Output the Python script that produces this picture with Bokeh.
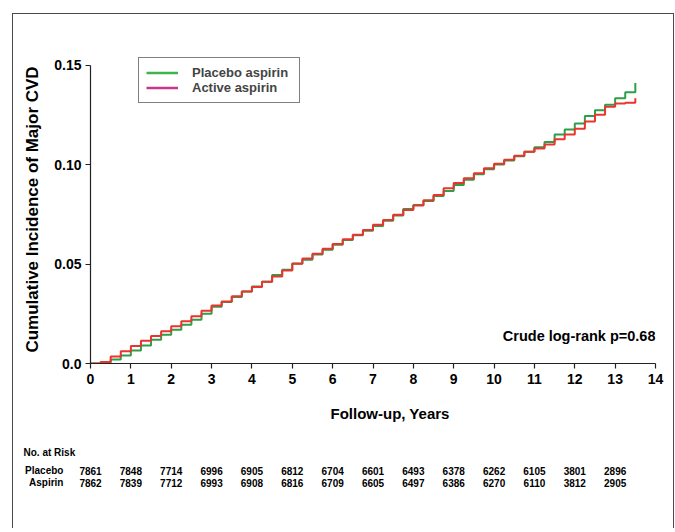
from bokeh.plotting import figure
from bokeh.layouts import column, row
from bokeh.models import (Range1d, FixedTicker, Legend, LegendItem, Label, Title,
                          ColumnDataSource)
from bokeh.core.properties import value
from bokeh.embed import file_html
from bokeh.resources import INLINE

# ---- data ----
years = [0, 0.25, 0.5, 0.75, 1.0, 1.25, 1.5, 1.75, 2.0, 2.25, 2.5, 2.75, 3.0, 3.25,
         3.5, 3.75, 4.0, 4.25, 4.5, 4.75, 5.0, 5.25, 5.5, 5.75, 6.0, 6.25, 6.5, 6.75,
         7.0, 7.25, 7.5, 7.75, 8.0, 8.25, 8.5, 8.75, 9.0, 9.25, 9.5, 9.75, 10.0, 10.25,
         10.5, 10.75, 11.0, 11.25, 11.5, 11.75, 12.0, 12.25, 12.5, 12.75, 13.0, 13.25, 13.5]
placebo_cum = [0, 0.0005, 0.002, 0.004, 0.0065, 0.009, 0.012, 0.0145, 0.017, 0.0195,
               0.022, 0.025, 0.0285, 0.031, 0.0335, 0.0362, 0.0388, 0.0412, 0.0445,
               0.0472, 0.0503, 0.0522, 0.0548, 0.0572, 0.0598, 0.0622, 0.0645, 0.0668,
               0.0692, 0.0718, 0.0745, 0.0778, 0.0798, 0.0818, 0.0843, 0.0868, 0.0898,
               0.0925, 0.0952, 0.0978, 0.1002, 0.1022, 0.1043, 0.1066, 0.1088, 0.1115,
               0.1152, 0.1178, 0.1208, 0.1245, 0.1275, 0.1302, 0.1335, 0.1365, 0.1412]
aspirin_cum = [0, 0.0008, 0.0035, 0.0062, 0.0088, 0.0115, 0.0138, 0.0162, 0.0188, 0.0212,
               0.0238, 0.0265, 0.0292, 0.0312, 0.0338, 0.0362, 0.0385, 0.0412, 0.0438,
               0.0468, 0.0502, 0.0528, 0.0552, 0.0578, 0.0602, 0.0625, 0.0648, 0.0672,
               0.0698, 0.0722, 0.0748, 0.0772, 0.0795, 0.0822, 0.0848, 0.0882, 0.0908,
               0.0932, 0.0958, 0.0982, 0.1005, 0.1025, 0.1045, 0.1065, 0.1082, 0.1102,
               0.1128, 0.1152, 0.1182, 0.1218, 0.1252, 0.1292, 0.1308, 0.1312, 0.1335]

x_ticks = list(range(15))
y_ticks = [0, 0.05, 0.10, 0.15]
y_tick_labels = ["0.0", "0.05", "0.10", "0.15"]

risk_years = list(range(14))
risk_groups = ["Placebo", "Aspirin"]
placebo_risk = [7861, 7848, 7714, 6996, 6905, 6812, 6704, 6601, 6493, 6378, 6262, 6105, 3801, 2896]
aspirin_risk = [7862, 7839, 7712, 6993, 6908, 6816, 6709, 6605, 6497, 6386, 6270, 6110, 3812, 2905]

legend_labels = ["Placebo aspirin", "Active aspirin"]
pvalue_text = "Crude log-rank p=0.68"

FONT = "Liberation Sans"
GREEN = "#2f9e48"
RED = "#e8352f"
LEG_GREEN = "#3cb54a"
LEG_MAGENTA = "#c8378a"

W = 660
LEFT, RIGHT = 77, 18
X0, X1 = 0, 14
Y_TOP = 0.155   # a little head-room above the last tick for the legend box

p = figure(width=W, height=426, x_range=Range1d(X0, X1), y_range=Range1d(0, Y_TOP),
           output_backend="svg", toolbar_location=None,
           min_border_left=LEFT, min_border_right=RIGHT, min_border_top=41,
           min_border_bottom=77)
p.outline_line_color = None
p.xgrid.visible = False
p.ygrid.visible = False

for ax in (p.xaxis[0], p.yaxis[0]):
    ax.major_tick_in = 0
    ax.major_tick_out = 5
    ax.minor_tick_out = 0
    ax.minor_tick_in = 0
    ax.axis_line_width = 1.2
    ax.major_tick_line_width = 1.2
    ax.axis_line_color = "#222222"
    ax.major_tick_line_color = "#222222"
    ax.major_label_text_font = FONT
    ax.major_label_text_font_style = "bold"
    ax.major_label_text_font_size = "14px"
    ax.major_label_text_color = "black"
    ax.axis_label_text_font = FONT
    ax.axis_label_text_font_style = "bold"
    ax.axis_label_text_color = "black"

p.xaxis.ticker = FixedTicker(ticks=x_ticks)
p.yaxis.ticker = FixedTicker(ticks=y_ticks)
p.yaxis.bounds = (y_ticks[0], y_ticks[-1])
p.yaxis.major_label_overrides = {t: l for t, l in zip(y_ticks, y_tick_labels)}
p.yaxis.major_label_standoff = 4
p.yaxis.axis_label = "Cumulative Incidence of Major CVD"
p.yaxis.axis_label_text_font_size = "17px"
p.yaxis.axis_label_standoff = 9

# x axis title, placed a little right of the frame centre as in the original
p.add_layout(Title(text="Follow-up, Years", align="left", offset=240,
                   text_font=FONT, text_font_style="bold", text_font_size="15px",
                   text_color="black", standoff=32), "below")

p.step(x=years, y=placebo_cum, mode="after", line_color=GREEN, line_width=2)
p.step(x=years, y=aspirin_cum, mode="after", line_color=RED, line_width=2)

# legend with its own colour swatches (dummy renderers kept off-range)
lg1 = p.line(x=[-5, -4], y=[-1, -1], line_color=LEG_GREEN, line_width=2.5)
lg2 = p.line(x=[-5, -4], y=[-1, -1], line_color=LEG_MAGENTA, line_width=2.5)
legend = Legend(items=[LegendItem(label=legend_labels[0], renderers=[lg1]),
                       LegendItem(label=legend_labels[1], renderers=[lg2])],
                location=(48, 260), orientation="vertical",
                border_line_color="black", border_line_width=1.5,
                background_fill_alpha=1, padding=7, margin=0, spacing=0,
                glyph_width=32, glyph_height=13, label_height=13, label_standoff=14,
                label_width=100, label_text_line_height=1.0,
                label_text_font=FONT, label_text_font_style="bold",
                label_text_font_size="13px")
p.add_layout(legend, "center")

p.add_layout(Label(x=X1, y=0.014, text=pvalue_text, text_align="right",
                   text_baseline="middle", text_font=FONT, text_font_style="bold",
                   text_font_size="14.5px", text_color="black"))

# ---- number-at-risk table, in a strip that shares the year scale ----
px_per_year = (W - LEFT - RIGHT) / (X1 - X0)
TH = 88
t = figure(frame_width=W, frame_height=TH,
           x_range=Range1d(X0 - LEFT / px_per_year, X1 + RIGHT / px_per_year),
           y_range=Range1d(TH, 0), output_backend="svg", toolbar_location=None,
           x_axis_type=None, y_axis_type=None, title=None, min_border=0,
           min_border_left=0, min_border_right=0, min_border_top=0, min_border_bottom=0)
t.outline_line_color = None
t.xgrid.visible = False
t.ygrid.visible = False

row_y = [30, 42]            # vertical slots (px from strip top) of the two rows
head_y = 12
label_x = X0 - 0.67         # right edge of the row names, in years
t.text(x=[X0 - 1.66], y=[head_y], text=["No. at Risk"], text_align="left",
       text_baseline="middle", text_font=value(FONT), text_font_style="bold",
       text_font_size="10px", text_color="black")
t.text(x=[label_x, label_x], y=row_y, text=risk_groups, text_align="right",
       text_baseline="middle", text_font=value(FONT), text_font_style="bold",
       text_font_size="10px", text_color="black")
src = ColumnDataSource(dict(x=risk_years + risk_years,
                            y=[row_y[0]] * len(risk_years) + [row_y[1]] * len(risk_years),
                            t=[str(v) for v in placebo_risk] + [str(v) for v in aspirin_risk]))
t.text(x="x", y="y", text="t", source=src, text_align="center",
       text_baseline="middle", text_font=value(FONT), text_font_style="bold",
       text_font_size="10px", text_color="black")

layout = column(p, row(t), spacing=0)
layout.styles = {"border-left": "1px solid #4a4a4a", "border-top": "1px solid #4a4a4a",
                 "border-right": "1px solid #4a4a4a", "margin-left": "12px",
                 "margin-top": "13px"}

open("out.html", "w").write(file_html(layout, INLINE))
